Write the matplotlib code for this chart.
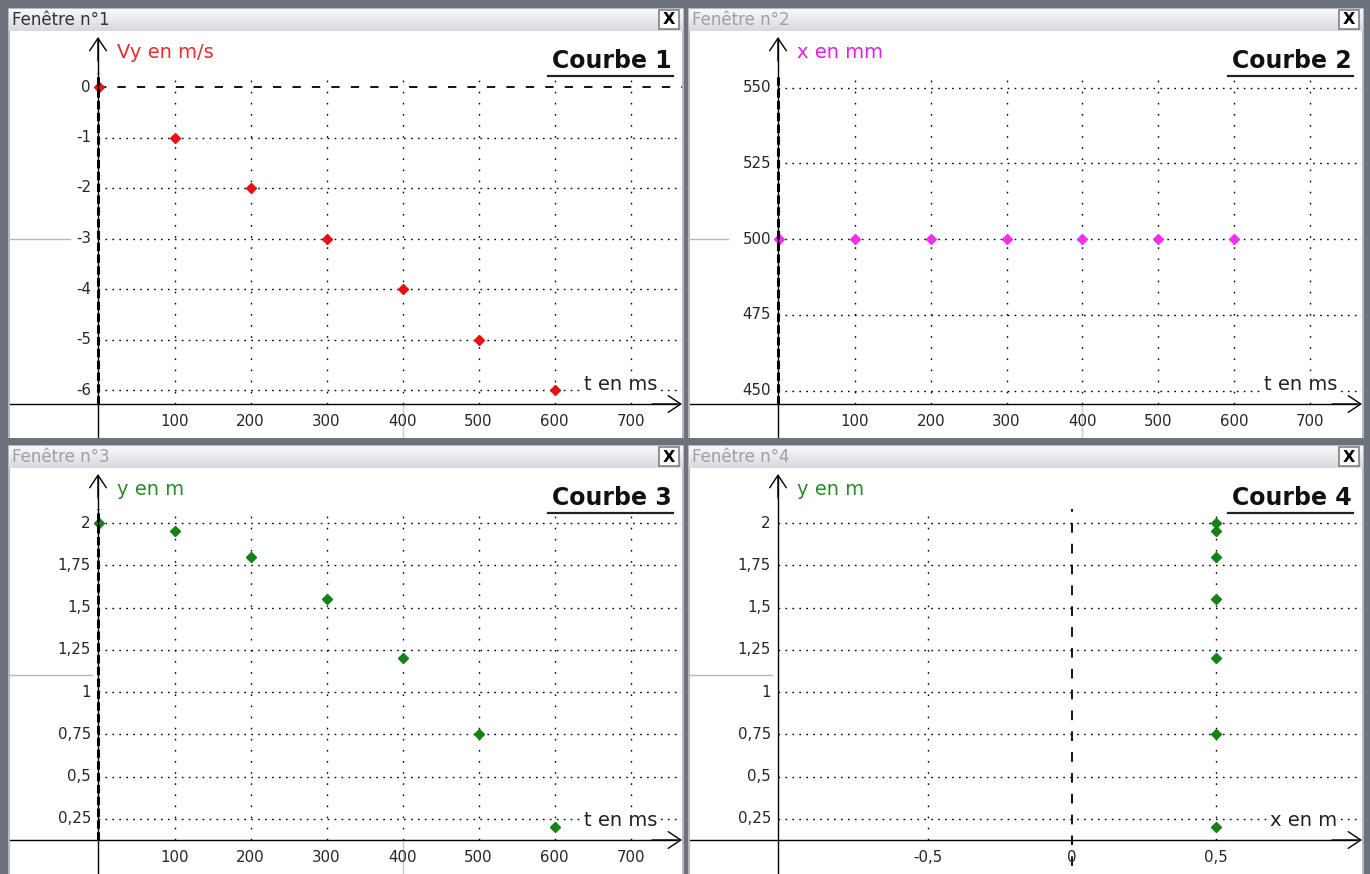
import matplotlib

matplotlib.use("Agg")
import matplotlib.pyplot as plt
import numpy as np
from matplotlib.patches import Rectangle

t_ms = [0, 100, 200, 300, 400, 500, 600]
vy = [0, -1, -2, -3, -4, -5, -6]
x_mm = [500, 500, 500, 500, 500, 500, 500]
y_m = [2, 1.95, 1.8, 1.55, 1.2, 0.75, 0.2]
x_m = [0.5, 0.5, 0.5, 0.5, 0.5, 0.5, 0.5]

t_ticks = [100, 200, 300, 400, 500, 600, 700]
t_labels = ["100", "200", "300", "400", "500", "600", "700"]
vy_ticks = [0, -1, -2, -3, -4, -5, -6]
vy_labels = ["0", "-1", "-2", "-3", "-4", "-5", "-6"]
xmm_ticks = [550, 525, 500, 475, 450]
xmm_labels = ["550", "525", "500", "475", "450"]
ym_ticks = [2, 1.75, 1.5, 1.25, 1, 0.75, 0.5, 0.25]
ym_labels = ["2", "1,75", "1,5", "1,25", "1", "0,75", "0,5", "0,25"]
xm_ticks = [-0.5, 0, 0.5]
xm_labels = ["-0,5", "0", "0,5"]

W, H = 1370, 874
plt.rcParams["lines.scale_dashes"] = False
fig = plt.figure(figsize=(W / 100, H / 100), dpi=100, facecolor="#6d737c")


def px_axes(x0, y0, x1, y1, **kw):
    return fig.add_axes([x0 / W, 1 - y1 / H, (x1 - x0) / W, (y1 - y0) / H], **kw)


panels = [
    dict(win=(8, 8, 684, 438), title="Fenêtre n°1", active=True,
         x=t_ms, y=vy, color="#e81010", ylab="Vy en m/s", ylab_color="#e03030",
         xlab="t en ms", courbe="Courbe 1",
         xmap=(0, 98.5, 0.76), ymap=(0, 87, 50.5), vaxis=98, haxis=404,
         xt=t_ticks, xtl=t_labels, yt=vy_ticks, ytl=vy_labels,
         zero_h=0, axis_zero=True, cursor=(400, -3), cursor_stop=70),
    dict(win=(688, 8, 1364, 438), title="Fenêtre n°2", active=False,
         x=t_ms, y=x_mm, color="#f030f0", ylab="x en mm", ylab_color="#e020e0",
         xlab="t en ms", courbe="Courbe 2",
         xmap=(0, 779, 0.7586), ymap=(500, 239, 3.03), vaxis=778, haxis=404,
         xt=t_ticks, xtl=t_labels, yt=xmm_ticks, ytl=xmm_labels,
         zero_h=None, axis_zero=True, cursor=(400, 500), cursor_stop=728),
    dict(win=(8, 445, 684, 880), title="Fenêtre n°3", active=False,
         x=t_ms, y=y_m, color="#148214", ylab="y en m", ylab_color="#2a8a2a",
         xlab="t en ms", courbe="Courbe 3",
         xmap=(0, 98.5, 0.76), ymap=(2, 523, 169.1), vaxis=98, haxis=840,
         xt=t_ticks, xtl=t_labels, yt=ym_ticks, ytl=ym_labels,
         zero_h=None, axis_zero=True, cursor=(400, 1.1), cursor_stop=92),
    dict(win=(688, 445, 1364, 880), title="Fenêtre n°4", active=False,
         x=x_m, y=y_m, color="#148214", ylab="y en m", ylab_color="#2a8a2a",
         xlab="x en m", courbe="Courbe 4",
         xmap=(0, 1072, 288), ymap=(2, 523, 169.1), vaxis=778, haxis=840,
         xt=xm_ticks, xtl=xm_labels, yt=ym_ticks, ytl=ym_labels,
         zero_h=None, axis_zero=False, cursor=(None, 1.1), cursor_stop=772),
]

grad = np.linspace(0, 1, 22).reshape(-1, 1)
tb_cmap = matplotlib.colors.LinearSegmentedColormap.from_list("tb", ["#f8f8fa", "#d8d9e0"])
tick_font = dict(fontsize=10.8, color="#262626", family="DejaVu Sans")
arrow = dict(arrowstyle="->,head_length=0.9,head_width=0.6", lw=1, color="black",
             shrinkA=0, shrinkB=0, mutation_scale=10)

for p in panels:
    wx0, wy0, wx1, wy1 = p["win"]
    fig.patches.append(Rectangle((wx0 / W, 1 - wy1 / H), (wx1 - wx0) / W, (wy1 - wy0) / H,
                                 transform=fig.transFigure, facecolor="#b4b8c0",
                                 edgecolor="none", zorder=-5))

    # title bar
    tb = px_axes(wx0 + 1, wy0 + 1, wx1 - 1, wy0 + 23)
    tb.set_zorder(2)
    tb.imshow(grad, aspect="auto", cmap=tb_cmap, extent=(0, 1, 0, 1), origin="upper")
    tb.set_xlim(0, 1)
    tb.set_ylim(0, 1)
    tb.axis("off")
    bar_w = wx1 - wx0 - 2
    tb.text(3 / bar_w, 0.5, p["title"], fontsize=12, family="DejaVu Sans",
            color="#333333" if p["active"] else "#a0a0a0", ha="left", va="center")
    bx0 = (bar_w - 24) / bar_w
    tb.add_patch(Rectangle((bx0, 0.08), 20 / bar_w, 0.86, facecolor="#ffffff",
                           edgecolor="#808080", lw=1.2))
    tb.text(bx0 + 10 / bar_w, 0.5, "X", fontsize=11.5, fontweight="heavy", ha="center",
            va="center", color="black")

    # plot area
    L, T, R, B = wx0 + 2, wy0 + 23, wx1 - 2, min(wy1, H)
    ax = px_axes(L, T, R, B, facecolor="white")
    ax.set_zorder(2)
    x_ref, x_px, sx = p["xmap"]
    y_ref, y_px, sy = p["ymap"]

    def xd(px, x_ref=x_ref, x_px=x_px, sx=sx):
        return x_ref + (px - x_px) / sx

    def yd(py, y_ref=y_ref, y_px=y_px, sy=sy):
        return y_ref - (py - y_px) / sy

    ax.set_xlim(xd(L), xd(R))
    ax.set_ylim(yd(B), yd(T))
    for s in ax.spines.values():
        s.set_visible(False)
    ax.set_xticks([])
    ax.set_yticks([])

    va_x = xd(p["vaxis"])
    ha_y = yd(p["haxis"])
    grid_top = p["yt"][0] + 14 / sy

    # dotted grid
    for xv in p["xt"]:
        if xv == 0:
            continue
        ax.plot([xv, xv], [ha_y, grid_top], color="black", lw=1,
                ls=(0, (1.2, 6.8)), zorder=1)
    for yv in p["yt"]:
        if p["zero_h"] is not None and yv == p["zero_h"]:
            continue
        ax.plot([va_x, xd(R)], [yv, yv], color="black", lw=1,
                ls=(0, (1.2, 3.8)), zorder=1)

    # cursor marks (light grey)
    cx, cy = p["cursor"]
    ax.plot([xd(L), xd(p["cursor_stop"])], [cy, cy], color="#b8b8b8", lw=1, zorder=1)
    if cx is not None:
        ax.plot([cx, cx], [ha_y, yd(B)], color="#c8c8c8", lw=1, zorder=1)

    # zero lines
    if p["zero_h"] is not None:
        ax.plot([va_x, xd(R)], [p["zero_h"], p["zero_h"]], color="black", lw=1.3,
                ls=(0, (6, 8)), zorder=2)
    if p["axis_zero"]:
        ax.plot([va_x, va_x], [ha_y, grid_top], color="black", lw=2.2,
                ls=(0, (6, 2.5)), zorder=4)
    else:
        ax.plot([0, 0], [yd(B - 8), grid_top], color="black", lw=1.3,
                ls=(0, (7, 8)), zorder=2)

    # data
    ax.plot(p["x"], p["y"], ls="none", marker="D", ms=5.2, color=p["color"],
            mec=p["color"], zorder=3)

    # axes with arrows
    ax.plot([va_x, va_x], [yd(B), yd(T + 8)], color="black", lw=1, zorder=5)
    ax.annotate("", xy=(va_x, yd(T + 6)), xytext=(va_x, yd(T + 30)),
                arrowprops=arrow, zorder=5)
    ax.plot([xd(L), xd(R - 6)], [ha_y, ha_y], color="black", lw=1, zorder=5)
    ax.annotate("", xy=(xd(R), ha_y), xytext=(xd(R - 30), ha_y),
                arrowprops=arrow, zorder=5, annotation_clip=False)

    # tick labels
    for yv, lab in zip(p["yt"], p["ytl"]):
        ax.annotate(lab, (va_x, yv), xytext=(-7, 0), textcoords="offset pixels",
                    ha="right", va="center", **tick_font)
    for xv, lab in zip(p["xt"], p["xtl"]):
        ax.annotate(lab, (xv, ha_y), xytext=(0, -17), textcoords="offset pixels",
                    ha="center", va="center", **tick_font)

    # axis names
    ax.text(xd(p["vaxis"] + 19), yd(T + 21), p["ylab"], fontsize=14,
            color=p["ylab_color"], ha="left", va="center", family="DejaVu Sans")
    ax.text(xd(R - 25), ha_y + 20 / sy, p["xlab"], fontsize=14, color="#202020",
            ha="right", va="center", family="DejaVu Sans", zorder=6,
            bbox=dict(facecolor="white", edgecolor="none", pad=1.0))

    # "Courbe n" title, underlined
    ax.text(xd(R - 10), yd(T + 30), p["courbe"], fontsize=17, fontweight="bold",
            color="#111111", ha="right", va="center", family="DejaVu Sans", zorder=6)
    ax.plot([xd(R - 134), xd(R - 9)], [yd(T + 45), yd(T + 45)], color="#222222",
            lw=1.6, zorder=6)

fig.savefig("out.png", dpi=100, facecolor=fig.get_facecolor())
